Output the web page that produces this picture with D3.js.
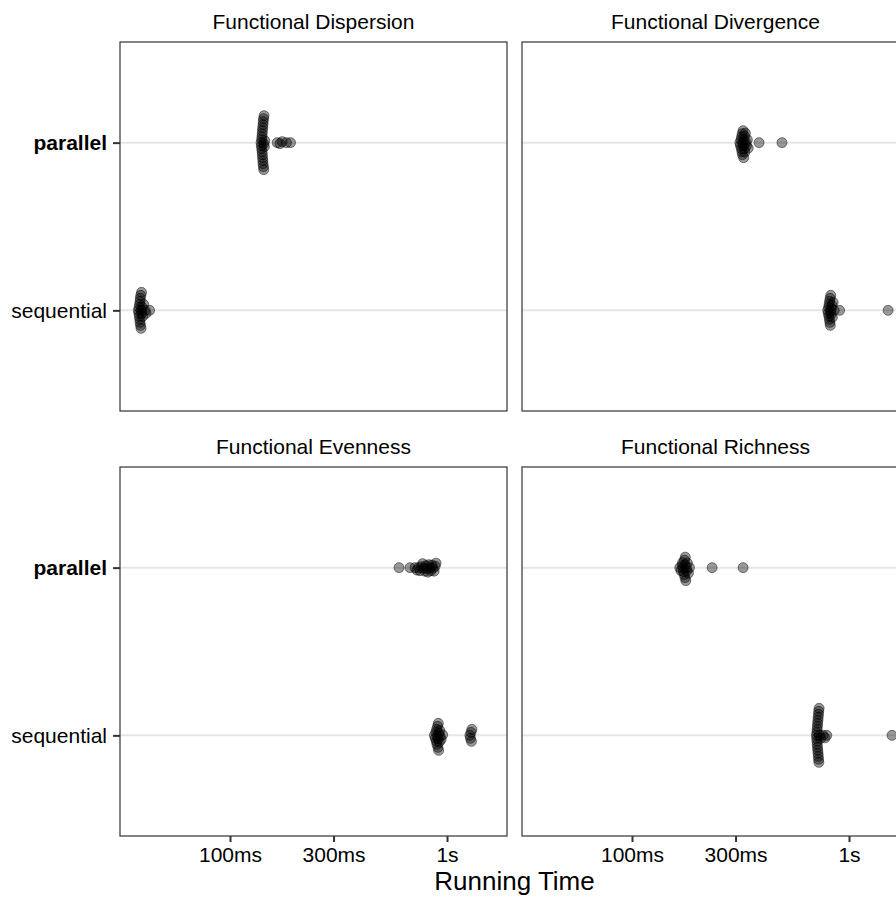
<!DOCTYPE html>
<html lang="en">
<head>
<meta charset="UTF-8">
<script src="https://cdn.jsdelivr.net/npm/d3@7"></script>
<title>Running Time</title>
<style>
  body { margin: 0; overflow: hidden; background: #fff; }
  svg text { font-family: "Liberation Sans", Arial, sans-serif; fill: #000; }
  .grid line { stroke: #e6e6e6; stroke-width: 2; }
  .frame { fill: none; stroke: #333; stroke-width: 1.2; }
  .dot { fill: #000; fill-opacity: 0.4; stroke: #000; stroke-opacity: 0.45; stroke-width: 1; }
</style>
</head>
<body>
<div id="chart"></div>
<script>
// facet titles and categories
const facetTitles = ["Functional Dispersion", "Functional Divergence", "Functional Evenness", "Functional Richness"];
const levels = ["parallel", "sequential"];
const tickValues = [100, 300, 1000];
const tickLabels = ["100ms", "300ms", "1s"];

// running times in ms
const dispersionParallel = [139, 139.5, 140, 140, 140.3, 140.5, 140.8, 141, 141, 141.2, 141.5, 141.7, 142, 142, 142.2, 142.5, 142.8, 143, 143.2, 143.5, 144, 144.5, 165, 170, 174, 182, 190];
const dispersionSequential = [37.8, 38, 38.1, 38.2, 38.3, 38.4, 38.5, 38.5, 38.6, 38.7, 38.8, 38.9, 39, 39.1, 39.2, 39.4, 39.6, 40, 40.6, 41, 42.6];
const divergenceParallel = [314, 316, 318, 319, 320, 321, 322, 323, 324, 325, 326, 327, 328, 329, 330, 331, 333, 335, 337, 340, 343, 385, 491];
const divergenceSequential = [798, 802, 805, 808, 810, 812, 814, 816, 818, 820, 822, 824, 827, 830, 834, 838, 845, 855, 905, 1514];
const evennessParallel = [601, 675, 712, 727, 740, 751, 762, 772, 783, 792, 800, 809, 816, 824, 835, 842, 852, 862, 872, 882, 890];
const evennessSequential = [875, 882, 888, 893, 896, 899, 902, 905, 908, 910, 912, 915, 918, 922, 926, 930, 940, 955, 1275, 1283, 1290, 1296, 1302];
const richnessParallel = [166, 168, 170, 171, 172, 173, 174, 174.5, 175, 175.5, 176, 177, 178, 179, 180, 182, 184, 234, 325];
const richnessSequential = [708, 710, 711, 712, 713, 714, 715, 716, 717, 718, 719, 720, 721, 722, 723, 724, 725, 726, 728, 732, 740, 760, 775, 790, 1578];

const facetData = [
  [dispersionParallel, dispersionSequential],
  [divergenceParallel, divergenceSequential],
  [evennessParallel, evennessSequential],
  [richnessParallel, richnessSequential]
];

const width = 910, height = 898;
const panelW = 387, panelH = 369;
const panelX = [120, 522];
const panelY = [42, 467];

const svg = d3.select("#chart").append("svg")
  .attr("width", width)
  .attr("height", height);

const x = d3.scaleLog().domain([31.12, 1890]).range([0, panelW]);
const y = d3.scalePoint().domain(levels).range([0, panelH]).padding(0.6);

// simple beeswarm: sorted by x, each point takes the free offset closest to the line
function swarm(px, minDist) {
  const order = d3.range(px.length).sort((a, b) => px[a] - px[b]);
  const placed = [];
  const off = new Array(px.length);
  order.forEach(i => {
    let k = 0, dy = 0;
    while (true) {
      dy = k === 0 ? 0 : (k % 2 ? 1 : -1) * Math.ceil(k / 2) * 0.5;
      const ok = placed.every(p => {
        const ddx = p.x - px[i], ddy = p.y - dy;
        return ddx * ddx + ddy * ddy >= minDist * minDist;
      });
      if (ok) break;
      k++;
    }
    off[i] = dy;
    placed.push({x: px[i], y: dy});
  });
  return off;
}

facetTitles.forEach((title, f) => {
  const col = f % 2, row = Math.floor(f / 2);
  const g = svg.append("g")
    .attr("transform", `translate(${panelX[col]},${panelY[row]})`);

  g.append("text")
    .attr("x", panelW / 2)
    .attr("y", -13)
    .attr("text-anchor", "middle")
    .style("font-size", "21px")
    .text(title);

  g.append("g").attr("class", "grid")
    .selectAll("line")
    .data(levels)
    .join("line")
    .attr("x1", 0).attr("x2", panelW)
    .attr("y1", d => y(d)).attr("y2", d => y(d));

  levels.forEach((lv, li) => {
    const vals = facetData[f][li];
    const px = vals.map(v => x(v));
    const off = swarm(px, 2.9);
    g.append("g")
      .selectAll("circle")
      .data(vals)
      .join("circle")
      .attr("class", "dot")
      .attr("cx", d => x(d))
      .attr("cy", (d, i) => y(lv) + off[i])
      .attr("r", 5);
  });

  g.append("rect").attr("class", "frame")
    .attr("width", panelW).attr("height", panelH);

  if (col === 0) {
    const ya = g.append("g")
      .call(d3.axisLeft(y).tickSize(7).tickPadding(6));
    ya.select(".domain").remove();
    ya.selectAll(".tick line").attr("stroke", "#333").attr("stroke-width", 2);
    ya.selectAll(".tick text")
      .style("font-size", "21px")
      .style("font-weight", d => d === "parallel" ? "bold" : "normal");
  }

  if (row === 1) {
    const xa = g.append("g")
      .attr("transform", `translate(0,${panelH})`)
      .call(d3.axisBottom(x).tickValues(tickValues)
        .tickFormat((d, i) => tickLabels[i]).tickSize(6).tickPadding(5));
    xa.select(".domain").remove();
    xa.selectAll(".tick line").attr("stroke", "#333").attr("stroke-width", 2);
    xa.selectAll(".tick text").style("font-size", "21px");
  }
});

svg.append("text")
  .attr("x", (panelX[0] + panelX[1] + panelW) / 2)
  .attr("y", 890)
  .attr("text-anchor", "middle")
  .style("font-size", "26px")
  .text("Running Time");
</script>
</body>
</html>
